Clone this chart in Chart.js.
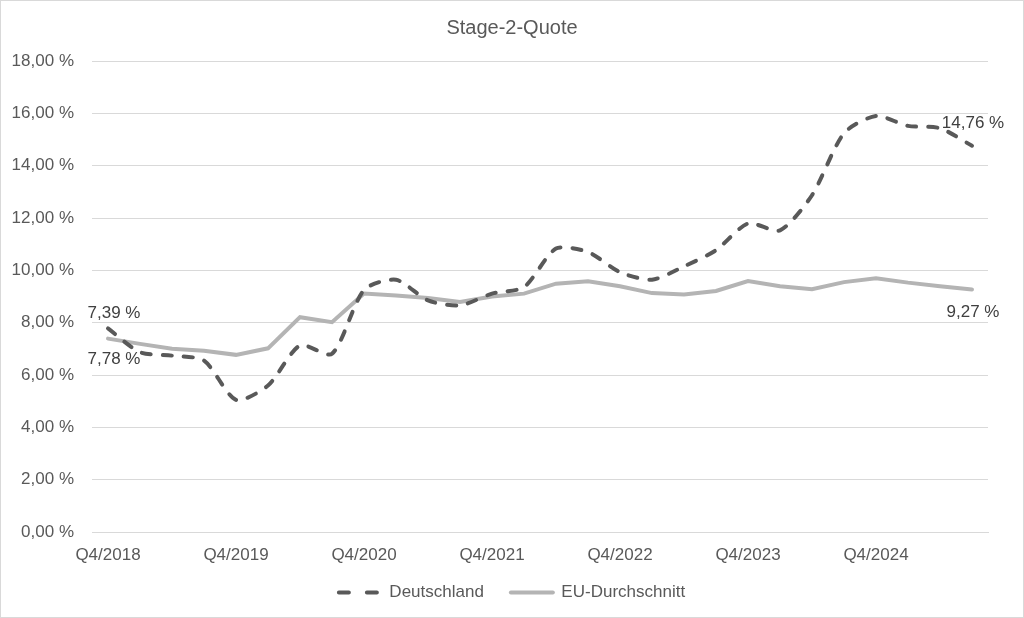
<!DOCTYPE html>
<html>
<head>
<meta charset="utf-8">
<script src="https://cdn.jsdelivr.net/npm/chart.js"></script>
<style>
  html, body { margin: 0; padding: 0; background: #fff; }
</style>
</head>
<body>
<canvas id="quoteChart" width="1024" height="618"></canvas>

<script>
  // quarters from Q4/2018 to Q3/2025
  const quarters = [
    'Q4/2018', 'Q1/2019', 'Q2/2019', 'Q3/2019',
    'Q4/2019', 'Q1/2020', 'Q2/2020', 'Q3/2020',
    'Q4/2020', 'Q1/2021', 'Q2/2021', 'Q3/2021',
    'Q4/2021', 'Q1/2022', 'Q2/2022', 'Q3/2022',
    'Q4/2022', 'Q1/2023', 'Q2/2023', 'Q3/2023',
    'Q4/2023', 'Q1/2024', 'Q2/2024', 'Q3/2024',
    'Q4/2024', 'Q1/2025', 'Q2/2025', 'Q3/2025'
  ];

  const deutschland = [
    7.78, 6.87, 6.74, 6.55, 5.05, 5.60, 7.13, 6.81,
    9.25, 9.64, 8.85, 8.66, 9.11, 9.36, 10.83, 10.70,
    9.93, 9.64, 10.15, 10.77, 11.79, 11.53, 12.87, 15.24,
    15.90, 15.52, 15.43, 14.76
  ];

  const euDurchschnitt = [
    7.39, 7.19, 7.00, 6.93, 6.77, 7.02, 8.21, 8.02,
    9.11, 9.04, 8.94, 8.79, 9.00, 9.11, 9.49, 9.58,
    9.39, 9.13, 9.08, 9.21, 9.59, 9.39, 9.28, 9.55,
    9.70, 9.53, 9.39, 9.27
  ];

  const yTicks = [0, 2, 4, 6, 8, 10, 12, 14, 16, 18];

  const textColor = '#595959';
  const fontFamily = '"Liberation Sans", Arial, sans-serif';

  function fmtPct(v) {
    return v.toFixed(2).replace('.', ',') + ' %';
  }

  // white background + thin frame like the exported picture
  const frame = {
    id: 'frame',
    beforeDraw(chart) {
      const c = chart.ctx;
      c.save();
      c.fillStyle = '#fff';
      c.fillRect(0, 0, chart.width, chart.height);
      c.strokeStyle = '#d9d9d9';
      c.lineWidth = 1;
      c.strokeRect(0.5, 0.5, chart.width - 1, chart.height - 1);
      c.restore();
    }
  };

  // nudge the legend row a little up
  const legendNudge = {
    id: 'legendNudge',
    afterLayout(chart) {
      if (chart.legend) {
        chart.legend.top -= 7;
        chart.legend.bottom -= 7;
      }
    }
  };

  // value labels at first and last point (dy = offset from the point)
  const endLabels = {
    id: 'endLabels',
    afterDatasetsDraw(chart) {
      const c = chart.ctx;
      c.save();
      c.font = '17px ' + fontFamily;
      c.fillStyle = '#404040';
      c.textAlign = 'center';
      c.textBaseline = 'middle';
      chart.data.datasets.forEach((ds, di) => {
        const meta = chart.getDatasetMeta(di);
        const last = ds.data.length - 1;
        [[0, 6, ds.labelDy[0]], [last, 1, ds.labelDy[1]]].forEach(([i, dx, dy]) => {
          const pt = meta.data[i];
          c.fillText(fmtPct(ds.data[i]), pt.x + dx, pt.y + dy);
        });
      });
      c.restore();
    }
  };

  const ctx = document.getElementById('quoteChart').getContext('2d');

  new Chart(ctx, {
    type: 'line',
    data: {
      labels: quarters,
      datasets: [
        {
          label: 'Deutschland',
          data: deutschland,
          borderColor: '#595959',
          backgroundColor: '#595959',
          borderWidth: 4,
          borderDash: [9, 12],
          borderCapStyle: 'round',
          pointRadius: 0,
          tension: 0.25,
          fill: false,
          labelDy: [31, -22],
          legendDash: [10, 18]
        },
        {
          label: 'EU-Durchschnitt',
          data: euDurchschnitt,
          borderColor: '#b4b4b4',
          backgroundColor: '#b4b4b4',
          borderWidth: 4,
          borderCapStyle: 'round',
          pointRadius: 0,
          tension: 0,
          fill: false,
          labelDy: [-25, 23],
          legendDash: []
        }
      ]
    },
    options: {
      responsive: false,
      animation: false,
      layout: { padding: 0 },
      plugins: {
        title: {
          display: true,
          text: 'Stage-2-Quote',
          color: textColor,
          font: { family: fontFamily, size: 20, weight: 'normal' },
          padding: { top: 16, bottom: 21 }
        },
        legend: {
          position: 'bottom',
          maxHeight: 57,
          labels: {
            color: textColor,
            font: { family: fontFamily, size: 17 },
            usePointStyle: true,
            pointStyle: 'line',
            pointStyleWidth: 42,
            boxWidth: 42,
            padding: 27,
            generateLabels: function (chart) {
              const items = Chart.defaults.plugins.legend.labels.generateLabels(chart);
              items.forEach(item => {
                const ds = chart.data.datasets[item.datasetIndex];
                item.lineDash = ds.legendDash;
                item.lineWidth = 4;
                item.lineCap = 'round';
                item.strokeStyle = ds.borderColor;
              });
              return items;
            }
          }
        },
        tooltip: { enabled: false }
      },
      scales: {
        x: {
          offset: true,
          afterFit: function (scale) {
            scale.height = 32;
          },
          grid: { display: false },
          border: { display: true, color: '#d9d9d9', width: 1 },
          ticks: {
            autoSkip: false,
            maxRotation: 0,
            padding: 5,
            color: textColor,
            font: { family: fontFamily, size: 17 },
            callback: function (value, index) {
              const lbl = quarters[index];
              return lbl.startsWith('Q4') ? lbl : '';
            }
          }
        },
        y: {
          min: yTicks[0],
          max: yTicks[yTicks.length - 1],
          afterBuildTicks: function (scale) {
            scale.ticks = yTicks.map(v => ({ value: v }));
          },
          afterFit: function (scale) {
            scale.width = 92;
          },
          grid: { color: '#d9d9d9', lineWidth: 1, drawTicks: false },
          border: { display: false },
          ticks: {
            padding: 18,
            color: textColor,
            font: { family: fontFamily, size: 17 },
            callback: v => fmtPct(v)
          }
        },
        // empty right-hand spacer so title and legend stay centred on the page
        yRight: {
          position: 'right',
          afterFit: function (scale) {
            scale.width = 36;
          },
          grid: { display: false },
          border: { display: false },
          ticks: { display: false }
        }
      }
    },
    plugins: [frame, legendNudge, endLabels]
  });
</script>
</body>
</html>
